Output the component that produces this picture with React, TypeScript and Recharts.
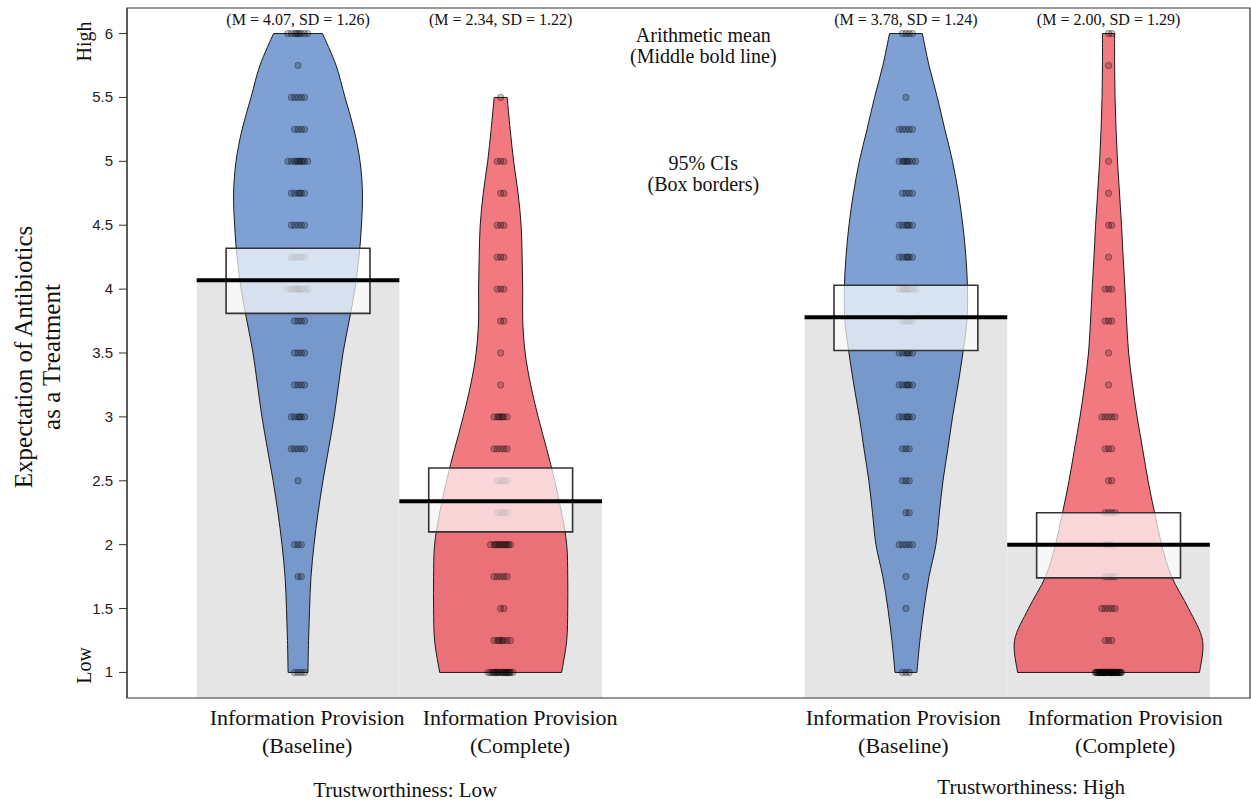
import React from 'react';
import { ComposedChart, XAxis, YAxis, Scatter, ReferenceArea, ReferenceLine, ReferenceDot } from 'recharts';

const SERIF = "'Liberation Serif', 'Times New Roman', serif";
const SANS = "'Liberation Sans', Arial, sans-serif";

// response levels of the rating scale
const levels = [1, 1.25, 1.5, 1.75, 2, 2.25, 2.5, 2.75, 3, 3.25, 3.5, 3.75, 4, 4.25, 4.5, 4.75, 5, 5.25, 5.5, 5.75, 6];

const beanPositions = [1, 2, 4, 5];
const conditionLabelPositions = [1.045, 2.096, 3.987, 5.082];
const conditionTop = ['Information Provision', 'Information Provision', 'Information Provision', 'Information Provision'];
const conditionBottom = ['(Baseline)', '(Complete)', '(Baseline)', '(Complete)'];
const groupPositions = [1.529, 4.618];
const groupLabelY = [0.08, 0.11];
const groupNames = ['Trustworthiness: Low', 'Trustworthiness: High'];

const means = [4.07, 2.34, 3.78, 2.0];
const sds = [1.26, 1.22, 1.24, 1.29];
const ciLower = [3.81, 2.1, 3.52, 1.74];
const ciUpper = [4.32, 2.6, 4.03, 2.25];

// number of responses at each level
const countsLowBaseline = [4, 0, 0, 2, 3, 0, 1, 5, 6, 4, 4, 4, 9, 5, 5, 6, 10, 4, 5, 1, 9];
const countsLowComplete = [20, 8, 2, 5, 12, 4, 4, 5, 7, 1, 1, 2, 3, 3, 3, 2, 3, 0, 1, 0, 0];
const countsHighBaseline = [3, 0, 1, 1, 5, 2, 3, 3, 6, 6, 6, 4, 8, 6, 6, 4, 8, 5, 1, 0, 4];
const countsHighComplete = [40, 3, 5, 4, 3, 4, 2, 3, 5, 1, 1, 3, 3, 1, 2, 1, 1, 0, 0, 1, 2];

// density half-widths of each bean at each level (x-axis units)
const widthLowBaseline = [0.049, 0.052, 0.057, 0.064, 0.079, 0.099, 0.123, 0.151, 0.178, 0.2, 0.222, 0.252, 0.281, 0.301, 0.313, 0.318, 0.306, 0.276, 0.232, 0.188, 0.121];
const widthLowComplete = [0.301, 0.326, 0.331, 0.331, 0.326, 0.301, 0.267, 0.227, 0.185, 0.148, 0.121, 0.109, 0.109, 0.106, 0.101, 0.086, 0.064, 0.047, 0.032, null, null];
const widthHighBaseline = [0.054, 0.069, 0.089, 0.114, 0.148, 0.165, 0.183, 0.207, 0.23, 0.257, 0.281, 0.301, 0.304, 0.296, 0.281, 0.259, 0.23, 0.192, 0.155, 0.114, 0.081];
const widthHighComplete = [0.449, 0.464, 0.395, 0.311, 0.262, 0.227, 0.195, 0.168, 0.141, 0.118, 0.099, 0.089, 0.081, 0.072, 0.064, 0.054, 0.044, 0.037, 0.032, 0.03, 0.03];

const yTicks = [1, 1.5, 2, 2.5, 3, 3.5, 4, 4.5, 5, 5.5, 6];

const beanColors = ['#4777bf', '#ee404a', '#4777bf', '#ee404a'];

// fixed horizontal spread pattern for overlapping dots
const spread = [0, 0.016, -0.017, 0.032, -0.033, 0.008, -0.009, 0.048, -0.05, 0.024, -0.025, 0.04, -0.041, 0.06, -0.062, 0.012, -0.013, 0.028, -0.03, 0.044, -0.045, 0.019, -0.021, 0.055, -0.056, 0.004, -0.004, 0.036, -0.037, 0.064, -0.065, 0.026, -0.027, 0.052, -0.053, 0.014, -0.016, 0.041, -0.042, 0.006];

const allCounts = [countsLowBaseline, countsLowComplete, countsHighBaseline, countsHighComplete];
const allWidths = [widthLowBaseline, widthLowComplete, widthHighBaseline, widthHighComplete];

function buildPoints(pos: number, counts: number[]) {
  const pts: { x: number; y: number }[] = [];
  levels.forEach((lv, i) => {
    for (let k = 0; k < counts[i]; k++) pts.push({ x: pos + spread[k % spread.length], y: lv });
  });
  return pts;
}

function buildViolin(pos: number, widths: (number | null)[]) {
  const idx = levels.map((_, i) => i).filter((i) => widths[i] != null);
  const pts: { x: number; y: number }[] = [];
  for (let k = idx.length - 1; k >= 0; k--) pts.push({ x: pos - (widths[idx[k]] as number), y: levels[idx[k]] });
  for (let k = 0; k < idx.length; k++) pts.push({ x: pos + (widths[idx[k]] as number), y: levels[idx[k]] });
  return pts;
}

function smooth(p: { x: number; y: number }[]) {
  let s = '';
  for (let i = 0; i < p.length - 1; i++) {
    const p0 = p[Math.max(i - 1, 0)];
    const p1 = p[i];
    const p2 = p[i + 1];
    const p3 = p[Math.min(i + 2, p.length - 1)];
    const c1x = p1.x + (p2.x - p0.x) / 6;
    const c1y = p1.y + (p2.y - p0.y) / 6;
    const c2x = p2.x - (p3.x - p1.x) / 6;
    const c2y = p2.y - (p3.y - p1.y) / 6;
    s += `C${c1x},${c1y} ${c2x},${c2y} ${p2.x},${p2.y}`;
  }
  return s;
}

const makeViolinLine = (fill: string) => (props: any) => {
  const pts = (props.points || []).filter((p: any) => p && p.x != null && p.y != null);
  if (pts.length < 4) return <g />;
  const n = pts.length / 2;
  const left = pts.slice(0, n);
  const right = pts.slice(n);
  const d = `M${left[0].x},${left[0].y}` + smooth(left) + `L${right[0].x},${right[0].y}` + smooth(right) + 'Z';
  return <path d={d} fill={fill} fillOpacity={0.7} stroke="#1a1a1a" strokeWidth={1} />;
};

const Empty = () => <g />;
const Dot = (props: any) => (
  <circle cx={props.cx} cy={props.cy} r={3.2} fill="#000" fillOpacity={0.2} stroke="#000" strokeOpacity={0.32} strokeWidth={1} />
);

const YTick = (props: any) => {
  const { x, y, payload } = props;
  const v = payload.value;
  return (
    <g>
      <text x={x - 6} y={y} dy={5} textAnchor="end" fontFamily={SANS} fontSize={15} fill="#222">{v}</text>
      {v === 6 && (
        <text x={x - 35} y={y + 8} transform={`rotate(-90 ${x - 35} ${y + 8})`} textAnchor="middle" dy={7} fontFamily={SERIF} fontSize={20} fill="#111">High</text>
      )}
      {v === 1 && (
        <text x={x - 35} y={y - 7} transform={`rotate(-90 ${x - 35} ${y - 7})`} textAnchor="middle" dy={7} fontFamily={SERIF} fontSize={20} fill="#111">Low</text>
      )}
    </g>
  );
};

const ConditionTick = (props: any) => {
  const { x, y, payload } = props;
  const i = conditionLabelPositions.indexOf(payload.value);
  if (i < 0) return <g />;
  return (
    <g>
      <text x={x} y={y + 27} textAnchor="middle" fontFamily={SERIF} fontSize={22} fill="#111">{conditionTop[i]}</text>
      <text x={x} y={y + 55} textAnchor="middle" fontFamily={SERIF} fontSize={22} fill="#111">{conditionBottom[i]}</text>
    </g>
  );
};

const YTitle = (props: any) => {
  const vb = props.viewBox || { x: 0, y: 8, width: 127, height: 690 };
  const cy = vb.y + vb.height / 2 + 4;
  const x1 = vb.x + 24;
  const x2 = vb.x + 52;
  return (
    <g>
      <text x={x1} y={cy} transform={`rotate(-90 ${x1} ${cy})`} textAnchor="middle" dy={8} fontFamily={SERIF} fontSize={25} fill="#111">Expectation of Antibiotics</text>
      <text x={x2} y={cy} transform={`rotate(-90 ${x2} ${cy})`} textAnchor="middle" dy={8} fontFamily={SERIF} fontSize={25} fill="#111">as a Treatment</text>
    </g>
  );
};

const textLabel = (value: string, size: number) => ({
  value,
  position: 'center' as const,
  fontFamily: SERIF,
  fontSize: size,
  fill: '#111',
});

export default function App() {
  const X_DOMAIN: [number, number] = [0.156, 5.698];
  const Y_DOMAIN: [number, number] = [0.8, 6.2];
  return (
    <div style={{ position: 'absolute', left: 0, top: 0, background: '#fff' }}>
      <ComposedChart width={1251} height={803} margin={{ top: 8, right: 1, bottom: 0, left: 0 }}>
        <XAxis
          dataKey="x"
          type="number"
          domain={X_DOMAIN}
          allowDataOverflow
          ticks={conditionLabelPositions}
          interval={0}
          tickLine={false}
          axisLine={false}
          tickSize={0}
          tickMargin={0}
          height={105}
          tick={<ConditionTick />}
        />
        <YAxis
          dataKey="y"
          type="number"
          domain={Y_DOMAIN}
          allowDataOverflow
          ticks={yTicks}
          interval={0}
          width={127}
          tickSize={8}
          tickMargin={0}
          tickLine={{ stroke: '#333' }}
          axisLine={{ stroke: '#333' }}
          tick={<YTick />}
          label={<YTitle />}
        />

        {beanPositions.map((pos, i) => (
          <ReferenceArea
            key={`bar${i}`}
            x1={pos - 0.5}
            x2={pos + 0.5}
            y1={Y_DOMAIN[0]}
            y2={means[i]}
            fill="#e5e5e5"
            fillOpacity={1}
            stroke="none"
            ifOverflow="visible"
            zIndex={1}
          />
        ))}

        {beanPositions.map((pos, i) => (
          <Scatter
            key={`bean${i}`}
            data={buildViolin(pos, allWidths[i])}
            line={makeViolinLine(beanColors[i])}
            lineType="joint"
            shape={Empty}
            isAnimationActive={false}
            zIndex={2}
          />
        ))}

        {beanPositions.map((pos, i) => (
          <Scatter
            key={`pts${i}`}
            data={buildPoints(pos, allCounts[i])}
            shape={Dot}
            isAnimationActive={false}
            zIndex={3}
          />
        ))}

        {beanPositions.map((pos, i) => (
          <ReferenceArea
            key={`ci${i}`}
            x1={pos - 0.355}
            x2={pos + 0.355}
            y1={ciLower[i]}
            y2={ciUpper[i]}
            fill="#ffffff"
            fillOpacity={0.7}
            stroke="#333"
            strokeWidth={1.6}
            ifOverflow="visible"
            zIndex={4}
          />
        ))}

        {beanPositions.map((pos, i) => (
          <ReferenceLine
            key={`mean${i}`}
            segment={[{ x: pos - 0.5, y: means[i] }, { x: pos + 0.5, y: means[i] }]}
            stroke="#000"
            strokeWidth={4}
            ifOverflow="visible"
            zIndex={5}
          />
        ))}

        {beanPositions.map((pos, i) => (
          <ReferenceDot
            key={`stat${i}`}
            x={pos}
            y={6.11}
            r={0}
            fill="none"
            stroke="none"
            ifOverflow="visible"
            zIndex={6}
            label={textLabel(`(M = ${means[i].toFixed(2)}, SD = ${sds[i].toFixed(2)})`, 16)}
          />
        ))}

        <ReferenceDot x={3} y={5.99} r={0} fill="none" stroke="none" ifOverflow="visible" zIndex={6} label={textLabel('Arithmetic mean', 20)} />
        <ReferenceDot x={3} y={5.825} r={0} fill="none" stroke="none" ifOverflow="visible" zIndex={6} label={textLabel('(Middle bold line)', 20)} />
        <ReferenceDot x={3} y={4.99} r={0} fill="none" stroke="none" ifOverflow="visible" zIndex={6} label={textLabel('95% CIs', 20)} />
        <ReferenceDot x={3} y={4.825} r={0} fill="none" stroke="none" ifOverflow="visible" zIndex={6} label={textLabel('(Box borders)', 20)} />

        {groupPositions.map((gx, i) => (
          <ReferenceDot
            key={`grp${i}`}
            x={gx}
            y={groupLabelY[i]}
            r={0}
            fill="none"
            stroke="none"
            ifOverflow="visible"
            zIndex={6}
            label={textLabel(groupNames[i], 21)}
          />
        ))}

        <ReferenceArea
          x1={X_DOMAIN[0]}
          x2={X_DOMAIN[1]}
          y1={Y_DOMAIN[0]}
          y2={Y_DOMAIN[1]}
          fill="none"
          stroke="#333"
          strokeWidth={1.2}
          ifOverflow="visible"
          zIndex={7}
        />
      </ComposedChart>
    </div>
  );
}
